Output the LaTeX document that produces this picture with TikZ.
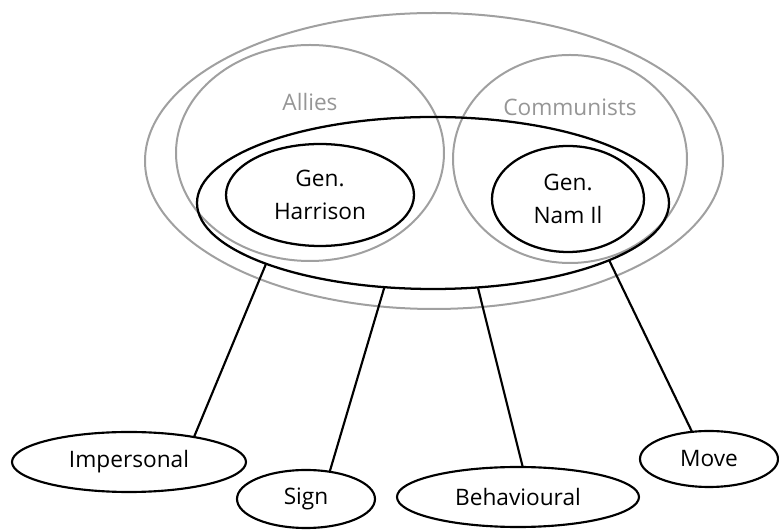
\documentclass[tikz,border=0pt]{standalone}
\usepackage{fontspec}
\setmainfont{Open Sans}
\usetikzlibrary{shapes.geometric}
\definecolor{ringgray}{RGB}{160,160,160}
\definecolor{labelgray}{RGB}{150,150,150}

\begin{document}
\begin{tikzpicture}[
        x=0.75pt, y=-0.75pt,
        group/.style={ellipse, draw=ringgray, line width=1.5pt, inner sep=0pt, outer sep=0pt},
        party/.style={ellipse, draw, line width=1.7pt, inner sep=0pt, outer sep=0pt, align=center, font=\fontsize{17}{25}\selectfont},
        mode/.style={ellipse, draw, line width=1.6pt, inner sep=0pt, outer sep=0pt, font=\fontsize{17}{20}\selectfont},
        grouplabel/.style={text=labelgray, font=\fontsize{17}{20}\selectfont},
        link/.style={line width=1.6pt}
    ]
    \useasboundingbox (0,0) rectangle (779,530);

    % Define groups
    \node[group, minimum width=433.5pt, minimum height=222pt] (outer) at (434,161) {};
    \node[group, minimum width=201pt, minimum height=162pt] (allies) at (310,153) {};
    \node[group, minimum width=175.5pt, minimum height=156pt] (communists) at (570,159) {};
    \node[grouplabel] (alliesname) at (310,102) {Allies};
    \node[grouplabel] (communistsname) at (570,107) {Communists};

    % Define negotiators
    \node[party, minimum width=354pt, minimum height=129pt] (talks) at (433,203) {};
    \node[party, minimum width=141pt, minimum height=76.5pt] (harrison) at (320,195) {Gen.\\Harrison};
    \node[party, minimum width=114pt, minimum height=79.5pt] (namil) at (568,199) {Gen.\\Nam Il};

    % Define modes
    \node[mode, minimum width=175.5pt, minimum height=45pt] (impersonal) at (129,462) {Impersonal};
    \node[mode, minimum width=103.5pt, minimum height=43.5pt] (sign) at (306,499) {Sign};
    \node[mode, minimum width=181.5pt, minimum height=45pt] (behavioural) at (518,497) {Behavioural};
    \node[mode, minimum width=103.5pt, minimum height=42pt] (move) at (709,459) {Move};

    % Draw links
    \draw[link] (talks.200) -- (impersonal.21);
    \draw[link] (talks.240) -- (sign.49);
    \draw[link] (talks.298) -- (behavioural.81);
    \draw[link] (talks.342) -- (move.122);

\end{tikzpicture}
\end{document}
